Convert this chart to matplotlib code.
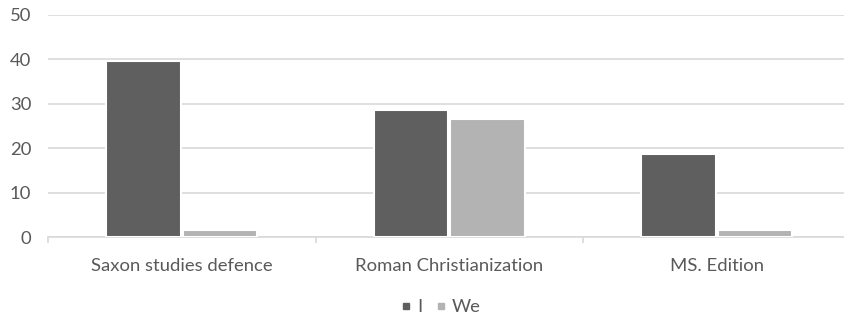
import matplotlib
matplotlib.use("Agg")
import matplotlib.pyplot as plt
from matplotlib.lines import Line2D
import numpy as np

categories = ["Saxon studies defence", "Roman Christianization", "MS. Edition"]
series_names = ["I", "We"]
values_i = [39.6, 28.5, 18.6]
values_we = [1.6, 26.6, 1.6]
y_ticks = [0, 10, 20, 30, 40, 50]

plt.rcParams['font.family'] = ['Lato', 'DejaVu Sans']

text_color = "#595959"
grid_color = "#d9d9d9"
colors = ["#5f5f5f", "#b3b3b3"]
fs = 13.3

fig = plt.figure(figsize=(8.44, 3.2), dpi=100)
ax = fig.add_axes([48 / 844, 0.259, 802.5 / 844, 0.6953])

x = np.arange(len(categories))
w = 0.28
off = 0.143
ax.bar(x - off, values_i, width=w, color=colors[0], edgecolor="white",
       linewidth=1.5, zorder=3)
ax.bar(x + off, values_we, width=w, color=colors[1], edgecolor="white",
       linewidth=1.5, zorder=3)

ax.set_xlim(-0.5, len(categories) - 0.5)
ax.set_ylim(0, 50)
ax.set_yticks(y_ticks)
ax.yaxis.grid(True, color=grid_color, linewidth=1.2, zorder=0)
ax.set_axisbelow(True)

for side in ["left", "right", "top"]:
    ax.spines[side].set_visible(False)
ax.spines["bottom"].set_color(grid_color)
ax.spines["bottom"].set_linewidth(1.2)

ax.set_xticks(x)
ax.set_xticklabels(categories)
ax.set_xticks(np.arange(-0.5, len(categories), 1.0), minor=True)
ax.tick_params(axis="x", which="major", length=0, pad=15, labelsize=fs,
               labelcolor=text_color)
ax.tick_params(axis="x", which="minor", length=4, width=1.2, color=grid_color)
ax.tick_params(axis="y", length=0, pad=12, labelsize=fs, labelcolor=text_color)

handles = [Line2D([0], [0], marker="s", linestyle="none", markersize=5,
                  markerfacecolor=c, markeredgecolor=c) for c in colors]
fig.legend(handles, series_names, loc="center", bbox_to_anchor=(0.522, 0.04),
           ncol=2, frameon=False, fontsize=fs, labelcolor=text_color,
           handlelength=0.6, handletextpad=0.3, columnspacing=0.7)

fig.savefig("out.png", dpi=100)
